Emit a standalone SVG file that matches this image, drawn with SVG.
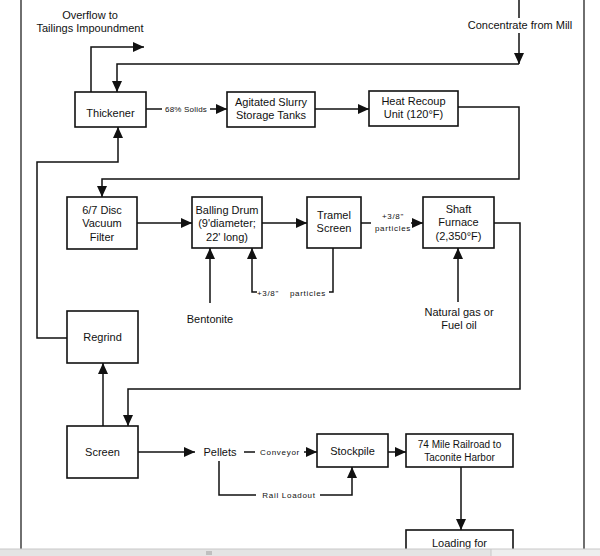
<svg xmlns="http://www.w3.org/2000/svg" width="600" height="556" viewBox="0 0 600 556">
<style>
text{font-family:"Liberation Sans",Arial,sans-serif;fill:#111;text-anchor:middle}
.t{font-size:11px}
.m{font-size:10px}
.s{font-size:8px;letter-spacing:0.7px}
.box{fill:#fff;stroke:#111;stroke-width:1.6}
.c path{fill:none;stroke:#111;stroke-width:1.5}
.a{marker-end:url(#ah)}
.border{stroke:#222;stroke-width:1.3}
</style>
<defs>
<marker id="ah" markerUnits="userSpaceOnUse" markerWidth="11" markerHeight="10" refX="11" refY="5" orient="auto">
<path d="M0,0 L11,5 L0,10 z" fill="#111"/>
</marker>
</defs>
<rect width="600" height="556" fill="#fff"/>
<line class="border" x1="21" y1="0" x2="21" y2="549"/>
<line class="border" x1="584" y1="0" x2="584" y2="549"/>

<g id="connectors" class="c">
<path class="a" d="M91,92 V47 H144"/>
<path d="M519,0 V18"/>
<path class="a" d="M519,33 V64"/>
<path class="a" d="M519,64 H117 V92"/>
<path d="M146,109 H162"/>
<path class="a" d="M210,109 H227"/>
<path class="a" d="M315,109 H369"/>
<path class="a" d="M458,107 H519 V179 H102 V197"/>
<path class="a" d="M137,223 H192"/>
<path class="a" d="M262,223 H307"/>
<path d="M361,223 H371"/>
<path class="a" d="M411,223 H423"/>
<path class="a" d="M458,302 V248"/>
<path class="a" d="M210,303 V248"/>
<path d="M333,248 V292 H329"/>
<path class="a" d="M257,292 H252 V248"/>
<path class="a" d="M494,223 H520 V389 H128 V426"/>
<path class="a" d="M103,426 V363"/>
<path class="a" d="M67,338 H37 V162 H118 V127"/>
<path class="a" d="M138,452 H195"/>
<path d="M244,452 H255"/>
<path class="a" d="M304,452 H317"/>
<path d="M219,461 V495 H256"/>
<path class="a" d="M320,495 H352 V467"/>
<path class="a" d="M388,452 H406"/>
<path class="a" d="M461,467 V530"/>
</g>

<g id="labels">
<text class="t" x="90" y="19">Overflow  to</text>
<text class="t" x="90" y="32">Tailings Impoundment</text>
<rect x="490" y="19" width="60" height="13" fill="#fff"/>
<text class="t" x="520" y="29">Concentrate  from  Mill</text>
<text class="s" x="186" y="112" style="letter-spacing:0.2px">68% Solids</text>
<text class="s" x="393" y="219">+3/8"</text>
<text class="s" x="393" y="231">particles</text>
<text class="t" x="459" y="316">Natural gas or</text>
<text class="t" x="459" y="329">Fuel oil</text>
<text class="t" x="210" y="323">Bentonite</text>
<text class="s" x="268" y="296">+3/8"</text>
<text class="s" x="308" y="296">particles</text>
<text class="t" x="220" y="456">Pellets</text>
<text class="s" x="280" y="455">Conveyor</text>
<text class="s" x="289" y="498">Rail Loadout</text>
</g>

<g id="thickener"><rect class="box" x="75" y="92" width="71" height="35"/><text class="t" x="110.5" y="117">Thickener</text></g>
<g id="agitated"><rect class="box" x="227" y="92" width="88" height="35"/><text class="t" x="271" y="106">Agitated Slurry</text><text class="t" x="271" y="119">Storage Tanks</text></g>
<g id="heat"><rect class="box" x="369" y="91" width="89" height="35"/><text class="t" x="413.5" y="105">Heat Recoup</text><text class="t" x="413.5" y="118">Unit (120°F)</text></g>
<g id="filter"><rect class="box" x="67" y="197" width="70" height="52"/><text class="t" x="102" y="214">6/7 Disc</text><text class="t" x="102" y="227">Vacuum</text><text class="t" x="102" y="241">Filter</text></g>
<g id="balling"><rect class="box" x="192" y="197" width="70" height="51"/><text class="t" x="227" y="214">Balling Drum</text><text class="t" x="227" y="227">(9'diameter;</text><text class="t" x="227" y="241">22' long)</text></g>
<g id="tramel"><rect class="box" x="307" y="197" width="54" height="51"/><text class="t" x="334" y="219">Tramel</text><text class="t" x="334" y="232">Screen</text></g>
<g id="furnace"><rect class="box" x="423" y="197" width="71" height="51"/><text class="t" x="458.5" y="213">Shaft</text><text class="t" x="458.5" y="226">Furnace</text><text class="t" x="458.5" y="240">(2,350°F)</text></g>
<g id="regrind"><rect class="box" x="67" y="311" width="71" height="52"/><text class="t" x="102.5" y="341">Regrind</text></g>
<g id="screen"><rect class="box" x="67" y="426" width="71" height="52"/><text class="t" x="102.5" y="456">Screen</text></g>
<g id="stockpile"><rect class="box" x="317" y="434" width="71" height="33"/><text class="t" x="352.5" y="455">Stockpile</text></g>
<g id="railroad"><rect class="box" x="406" y="434" width="107" height="33"/><text class="m" x="459.5" y="448">74 Mile Railroad to</text><text class="m" x="459.5" y="461">Taconite Harbor</text></g>
<g id="loading"><rect class="box" x="406" y="530" width="107" height="30"/><text class="t" x="459.5" y="547">Loading for</text></g>

<g id="bar">
<rect x="0" y="549" width="600" height="7" fill="#eeeeee"/>
<rect x="0" y="549" width="491" height="7" fill="#e4e4e4"/>
<line x1="0" y1="549" x2="600" y2="549" stroke="#c8c8c8" stroke-width="1"/>
<line x1="491" y1="549" x2="491" y2="556" stroke="#c8c8c8" stroke-width="1"/>
<path d="M207,551 v4 M209,551 v4 M211,551 v4" stroke="#888" stroke-width="0.8"/>
</g>
</svg>
